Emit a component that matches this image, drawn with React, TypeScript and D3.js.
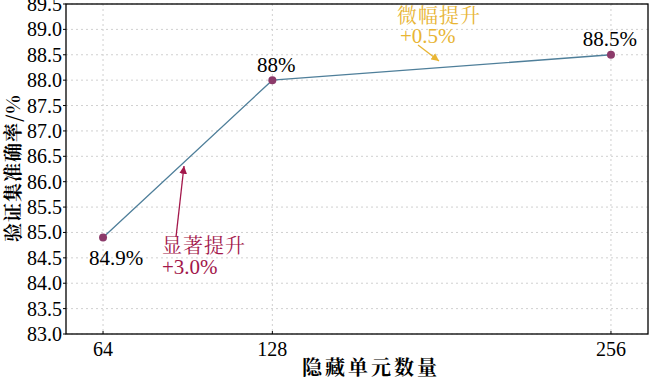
import React from "react";
import * as d3 from "d3";

const units = [64, 128, 256];
const accuracy = [84.9, 88.0, 88.5];
const pointLabels = ["84.9%", "88%", "88.5%"];
const yTicks = [83.0, 83.5, 84.0, 84.5, 85.0, 85.5, 86.0, 86.5, 87.0, 87.5, 88.0, 88.5, 89.0, 89.5];
const xLabel = "隐藏单元数量";
const yLabel = "验证集准确率/%";
const annBig = ["显著提升", "+3.0%"];
const annSmall = ["微幅提升", "+0.5%"];

const W = 650, H = 380;
const left = 66, right = 648, top = 4, bottom = 334;
const serif = "'Liberation Serif', 'Noto Serif CJK SC', serif";
const cjk = "'Noto Serif CJK SC', 'Noto Sans CJK SC', sans-serif";

export default function App() {
  const x = d3.scaleLinear().domain([50, 270]).range([left, right]);
  const y = d3.scaleLinear().domain([83, 89.5]).range([bottom, top]);
  const line = d3.line<number>().x((d, i) => x(units[i])).y((d) => y(d));
  const lineColor = "#4f7f9a";
  const ptColor = "#8c3a6a";
  const red = "#a3174b";
  const gold = "#e8b534";

  const p0 = [x(units[0]), y(accuracy[0])];
  const p1 = [x(units[1]), y(accuracy[1])];
  const p2 = [x(units[2]), y(accuracy[2])];
  const num = { fontFamily: serif };
  const han = { fontFamily: cjk };

  return (
    <svg width={W} height={H} style={{ position: "absolute", left: 0, top: 0, background: "#fff" }}>
      <defs>
        <marker id="ar" viewBox="0 0 10 10" refX="10" refY="5" markerWidth="6" markerHeight="6" orient="auto">
          <path d="M0,0 L10,5 L0,10 z" fill={red} />
        </marker>
        <marker id="ag" viewBox="0 0 10 10" refX="10" refY="5" markerWidth="6" markerHeight="6" orient="auto">
          <path d="M0,0 L10,5 L0,10 z" fill={gold} />
        </marker>
      </defs>
      {yTicks.map((t) => (
        <line key={"gy" + t} x1={left} x2={right} y1={y(t)} y2={y(t)} stroke="#d0d0d0" strokeWidth={1} strokeDasharray="2,3" />
      ))}
      {units.map((u) => (
        <line key={"gx" + u} x1={x(u)} x2={x(u)} y1={top} y2={bottom} stroke="#d0d0d0" strokeWidth={1} strokeDasharray="2,3" />
      ))}
      <rect x={left} y={top} width={right - left} height={bottom - top} fill="none" stroke="#000" strokeWidth={1.3} />
      {yTicks.map((t) => (
        <g key={"ty" + t}>
          <line x1={left - 3} x2={left} y1={y(t)} y2={y(t)} stroke="#000" />
          <text x={left - 4} y={y(t)} dy="0.35em" textAnchor="end" style={num} fontSize={20}>{t.toFixed(1)}</text>
        </g>
      ))}
      {units.map((u) => (
        <g key={"tx" + u}>
          <line x1={x(u)} x2={x(u)} y1={bottom} y2={bottom - 3} stroke="#000" />
          <text x={x(u)} y={bottom + 22} textAnchor="middle" style={num} fontSize={20}>{u}</text>
        </g>
      ))}
      <text x={371} y={375} textAnchor="middle" style={han} fontSize={20} fontWeight={700} letterSpacing={3}>{xLabel}</text>
      <text transform={`translate(20,${168}) rotate(-90)`} textAnchor="middle" style={han} fontSize={19} fontWeight={700} letterSpacing={1}>{yLabel}</text>
      <path d={line(accuracy) || ""} fill="none" stroke={lineColor} strokeWidth={1.3} />
      {accuracy.map((a, i) => (
        <circle key={"p" + i} cx={x(units[i])} cy={y(a)} r={4} fill={ptColor} />
      ))}
      <text x={p0[0] + 13} y={p0[1] + 27} textAnchor="middle" style={num} fontSize={21}>{pointLabels[0]}</text>
      <text x={p1[0] + 4} y={p1[1] - 8} textAnchor="middle" style={num} fontSize={21}>{pointLabels[1]}</text>
      <text x={p2[0] - 1} y={p2[1] - 9} textAnchor="middle" style={num} fontSize={21}>{pointLabels[2]}</text>
      <line x1={176} y1={237} x2={184} y2={166} stroke={red} strokeWidth={1.3} markerEnd="url(#ar)" />
      <text x={162} y={253} style={han} fontSize={20} letterSpacing={1} fill={red}>{annBig[0]}</text>
      <text x={162} y={274} style={num} fontSize={21} fill={red}>{annBig[1]}</text>
      <line x1={418} y1={45} x2={439} y2={61} stroke={gold} strokeWidth={1.3} markerEnd="url(#ag)" />
      <text x={397} y={23} style={han} fontSize={20} letterSpacing={1} fill={gold}>{annSmall[0]}</text>
      <text x={400} y={43} style={num} fontSize={21} fill={gold}>{annSmall[1]}</text>
    </svg>
  );
}
